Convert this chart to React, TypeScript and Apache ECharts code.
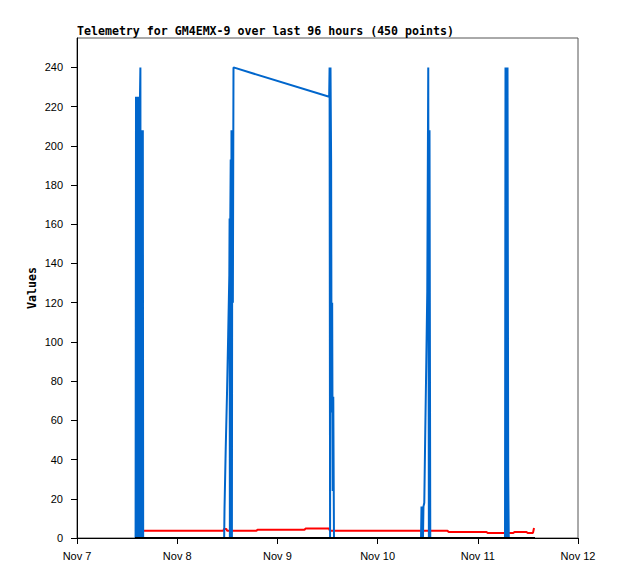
import React, { useEffect, useRef } from "react";
import * as echarts from "echarts";

const TITLE = "Telemetry for GM4EMX-9 over last 96 hours (450 points)";
const Y_NAME = "Values";
const YEAR = 2023;
const X_MIN_DAY = "11-07 00:00";
const X_MAX_DAY = "11-12 00:00";
const Y_TICKS = [0, 20, 40, 60, 80, 100, 120, 140, 160, 180, 200, 220, 240];
const Y_MAX = 255;

// Blue channel
const blueTimes = [
  "11-07 14:02", "11-07 14:08", "11-07 14:14", "11-07 14:19", "11-07 14:25",
  "11-07 14:31", "11-07 14:37", "11-07 14:42", "11-07 14:48", "11-07 14:54",
  "11-07 15:00", "11-07 15:05", "11-07 15:11", "11-07 15:17", "11-07 15:23",
  "11-07 15:28", "11-07 15:34", "11-07 15:40", "11-07 15:46", "11-07 15:51",
  "11-08 11:15", "11-08 11:20", "11-08 11:37", "11-08 11:56", "11-08 12:13",
  "11-08 12:29", "11-08 12:33", "11-08 12:37", "11-08 12:43", "11-08 12:49",
  "11-08 12:55", "11-08 13:00", "11-08 13:06", "11-08 13:12", "11-08 13:20",
  "11-08 13:29",
  "11-09 12:24", "11-09 12:30", "11-09 12:37", "11-09 12:43", "11-09 12:52",
  "11-09 12:59", "11-09 13:07", "11-09 13:15", "11-09 13:23", "11-09 13:33",
  "11-10 10:24", "11-10 10:31", "11-10 10:38", "11-10 10:45", "11-10 10:52",
  "11-10 10:59", "11-10 11:11", "11-10 11:25", "11-10 11:40", "11-10 11:54",
  "11-10 12:08", "11-10 12:17", "11-10 12:26", "11-10 12:37",
  "11-11 06:31", "11-11 06:38", "11-11 06:45", "11-11 06:52", "11-11 06:59",
  "11-11 07:07", "11-11 07:17", "11-11 07:25", "11-11 13:42",
];
const blueValues = [
  0, 225, 0, 225, 0,
  225, 0, 225, 0, 225,
  0, 225, 240, 0, 208,
  0, 208, 0, 208, 0,
  0, 15, 45, 74, 104,
  134, 163, 0, 163, 193,
  0, 208, 0, 208, 120,
  240,
  225, 240, 0, 240, 192,
  64, 120, 24, 72, 0,
  0, 16, 0, 16, 0,
  16, 18, 54, 90, 126,
  240, 0, 208, 0,
  0, 240, 0, 240, 0,
  240, 32, 0, 0,
];

// Red channel
const redTimes = [
  "11-07 13:53", "11-08 11:05", "11-08 11:12", "11-08 11:48", "11-08 11:56",
  "11-08 18:59", "11-08 19:14", "11-09 06:29", "11-09 06:44", "11-09 12:21",
  "11-09 12:36", "11-10 16:44", "11-10 16:59", "11-11 02:05", "11-11 02:19",
  "11-11 08:33", "11-11 08:47", "11-11 11:40", "11-11 11:54", "11-11 13:13",
  "11-11 13:28",
];
const redValues = [
  3.7, 3.7, 4.6, 4.6, 3.7,
  3.7, 4.2, 4.2, 4.8, 4.8,
  3.7, 3.7, 3.1, 3.1, 2.6,
  2.6, 3.1, 3.1, 2.6, 2.6,
  5.1,
];

// Black channel
const blackTimes = ["11-07 13:53", "11-11 13:42"];
const blackValues = [0, 0];

const MONTHS = ["Jan", "Feb", "Mar", "Apr", "May", "Jun", "Jul", "Aug", "Sep", "Oct", "Nov", "Dec"];

function toMs(s: string): number {
  const [md, hm] = s.split(" ");
  const [mo, d] = md.split("-").map(Number);
  const [h, mi] = hm.split(":").map(Number);
  return Date.UTC(YEAR, mo - 1, d, h, mi);
}

function pairs(times: string[], values: number[]) {
  return times.map((t, i) => [toMs(t), values[i]]);
}

const MONO = "'DejaVu Sans Mono', monospace";
const SANS = "'Liberation Sans', Arial, sans-serif";

export default function App() {
  const ref = useRef<HTMLDivElement>(null);
  useEffect(() => {
    if (!ref.current) return;
    const chart = echarts.init(ref.current, null, { renderer: "svg" });
    chart.setOption({
      animation: false,
      backgroundColor: "#ffffff",
      title: {
        text: TITLE,
        left: 77,
        top: 25,
        padding: 0,
        textStyle: { fontFamily: MONO, fontSize: 11.6, fontWeight: "bold", color: "#000" },
      },
      grid: {
        left: 77,
        right: 40,
        top: 38,
        bottom: 41,
        show: true,
        borderColor: "#555555",
        borderWidth: 1,
        backgroundColor: "transparent",
      },
      xAxis: {
        type: "value",
        min: toMs(X_MIN_DAY),
        max: toMs(X_MAX_DAY),
        interval: 86400000,
        axisLine: { show: true, lineStyle: { color: "#000", width: 1 } },
        axisTick: { show: true, length: 6, lineStyle: { color: "#000" } },
        splitLine: { show: false },
        axisLabel: {
          margin: 12,
          color: "#000",
          fontFamily: SANS,
          fontSize: 11,
          formatter: (v: number) => {
            const d = new Date(v);
            return MONTHS[d.getUTCMonth()] + " " + d.getUTCDate();
          },
        },
      },
      yAxis: {
        type: "value",
        min: 0,
        max: Y_MAX,
        name: Y_NAME,
        nameLocation: "middle",
        nameGap: 39,
        nameMoveOverlap: false,
        nameRotate: 90,
        nameTextStyle: { fontFamily: MONO, fontSize: 11.6, fontWeight: "bold", color: "#000" },
        axisLine: { show: true, lineStyle: { color: "#000", width: 1 } },
        axisTick: { show: true, length: 6, lineStyle: { color: "#000" }, customValues: Y_TICKS },
        splitLine: { show: false },
        axisLabel: {
          margin: 14,
          color: "#000",
          fontFamily: SANS,
          fontSize: 11,
          customValues: Y_TICKS,
        },
      },
      series: [
        {
          type: "line",
          data: pairs(redTimes, redValues),
          showSymbol: false,
          silent: true,
          lineStyle: { color: "#ff0000", width: 2 },
          itemStyle: { color: "#ff0000" },
        },
        {
          type: "line",
          data: pairs(blueTimes, blueValues),
          showSymbol: false,
          silent: true,
          lineStyle: { color: "#0066cc", width: 2 },
          itemStyle: { color: "#0066cc" },
        },
        {
          type: "line",
          data: pairs(blackTimes, blackValues),
          showSymbol: false,
          silent: true,
          lineStyle: { color: "#000000", width: 2 },
          itemStyle: { color: "#000000" },
        },
      ],
    });
    return () => chart.dispose();
  }, []);
  return (
    <div
      ref={ref}
      style={{ position: "absolute", left: 0, top: 0, width: 618, height: 579 }}
    />
  );
}
